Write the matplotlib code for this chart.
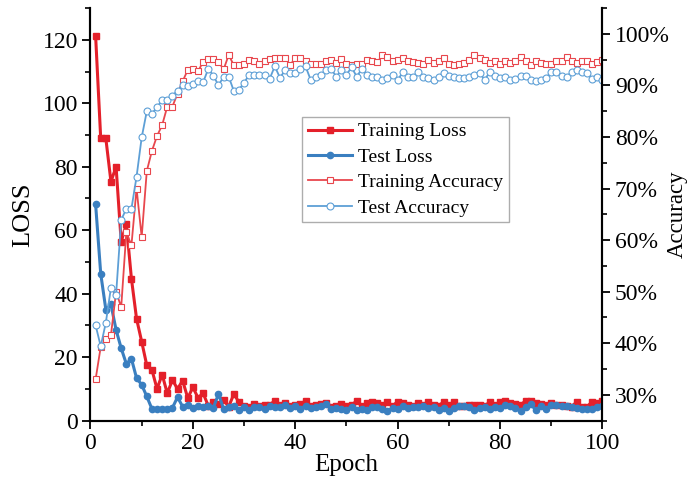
import numpy as np
import matplotlib
matplotlib.use('Agg')
import matplotlib.pyplot as plt
from matplotlib.ticker import MultipleLocator, PercentFormatter

# Data (epochs 1..100)
epochs = list(range(1, 101))

train_loss = [121.3, 88.9, 88.9, 75.3, 80.0, 56.3, 62.0, 44.7, 32.1, 24.9,
              17.4, 16.0, 10.0, 14.5, 8.6, 12.8, 10.0, 12.6, 7.1, 10.5,
              7.2, 8.6, 4.7, 5.8, 5.3, 6.5, 4.4, 8.4, 5.8, 4.7,
              4.2, 5.3, 4.6, 4.8, 5.0, 6.2, 4.8, 5.4, 4.6, 5.0,
              5.2, 6.2, 4.7, 5.0, 5.2, 5.6, 4.4, 4.6, 5.3, 4.6,
              4.9, 6.2, 4.5, 5.5, 6.0, 5.4, 4.8, 5.8, 4.6, 6.0,
              5.6, 5.0, 4.6, 5.6, 4.8, 6.0, 5.0, 4.6, 6.0, 4.8,
              5.8, 4.7, 4.6, 5.0, 5.0, 4.8, 4.5, 6.0, 4.8, 6.0,
              6.1, 5.4, 5.2, 5.0, 6.2, 6.2, 5.6, 5.2, 4.8, 5.4,
              5.0, 4.9, 4.6, 4.4, 6.0, 4.2, 4.4, 6.0, 5.4, 6.2]

test_loss = [68.2, 46.3, 35.0, 36.6, 28.6, 22.8, 17.9, 19.5, 13.4, 11.3,
             7.6, 3.7, 3.7, 3.7, 3.7, 4.0, 7.4, 4.4, 5.0, 4.0,
             4.7, 4.4, 4.7, 4.0, 8.4, 3.7, 4.4, 4.7, 3.2, 4.2,
             3.4, 4.3, 4.4, 3.6, 4.6, 4.4, 4.2, 4.8, 3.9, 4.5,
             3.8, 4.6, 3.9, 4.4, 4.7, 5.2, 3.6, 4.0, 3.8, 3.5,
             4.4, 3.4, 3.8, 3.5, 4.2, 4.3, 3.6, 3.0, 4.0, 3.8,
             4.6, 3.9, 4.4, 4.3, 4.6, 4.0, 4.4, 3.4, 4.0, 3.0,
             4.0, 4.6, 4.7, 4.2, 3.3, 3.9, 4.2, 3.8, 4.4, 4.0,
             4.9, 4.6, 4.0, 3.0, 4.2, 5.2, 3.2, 4.6, 3.6, 5.0,
             4.8, 4.6, 4.5, 4.2, 3.9, 3.6, 3.7, 3.6, 4.4, 4.6]

train_acc = [33.0, 39.3, 40.8, 41.6, 50.0, 47.0, 61.5, 59.0, 70.0, 60.6,
             73.4, 77.3, 80.2, 82.3, 85.9, 85.9, 88.4, 90.8, 93.0, 93.2,
             92.7, 94.6, 95.1, 95.1, 94.6, 93.1, 95.9, 93.9, 93.9, 94.2,
             95.0, 94.7, 94.1, 94.7, 95.2, 95.4, 95.4, 95.4, 93.9, 95.4,
             95.4, 94.7, 94.2, 94.1, 94.1, 94.7, 95.0, 94.3, 95.2, 94.1,
             93.9, 94.2, 94.1, 95.0, 94.7, 94.5, 95.8, 95.6, 94.8, 95.0,
             95.4, 94.7, 94.5, 94.3, 94.2, 95.0, 94.3, 94.7, 95.4, 94.1,
             93.9, 94.1, 94.3, 95.0, 95.8, 95.4, 95.0, 94.3, 94.7, 94.2,
             94.8, 94.3, 94.7, 95.6, 94.8, 93.9, 94.7, 94.3, 94.2, 94.1,
             94.7, 94.7, 95.6, 94.7, 94.3, 94.7, 94.7, 94.2, 94.5, 95.0]

test_acc = [43.5, 39.4, 44.0, 50.8, 49.4, 63.9, 66.1, 66.1, 72.3, 79.9,
            85.0, 84.5, 85.8, 87.1, 87.1, 88.0, 89.0, 90.0, 89.8, 90.3,
            90.8, 90.6, 93.2, 91.9, 90.0, 91.7, 91.7, 88.9, 89.2, 90.5,
            92.1, 92.1, 92.1, 92.1, 91.3, 93.7, 91.5, 92.9, 92.4, 92.4,
            93.2, 93.7, 91.1, 91.7, 92.1, 92.9, 93.2, 91.7, 92.9, 92.1,
            93.5, 91.7, 93.2, 92.1, 91.7, 91.7, 91.0, 91.5, 92.1, 91.0,
            92.6, 91.7, 91.7, 92.6, 91.7, 91.5, 91.1, 91.7, 92.4, 91.9,
            91.7, 91.5, 91.5, 91.7, 92.1, 92.4, 91.1, 92.6, 91.9, 91.5,
            91.7, 91.0, 91.3, 91.9, 91.9, 91.1, 90.8, 91.0, 91.5, 92.6,
            92.6, 91.9, 91.7, 92.6, 92.9, 92.6, 92.4, 91.3, 91.7, 91.0]

RED = '#e4202a'
BLUE = '#3a7fc0'
LRED = '#e8474d'
LBLUE = '#5d9fd6'

plt.rcParams['font.family'] = ['Liberation Serif', 'DejaVu Serif']

fig = plt.figure(figsize=(6.87, 4.79), dpi=100)
ax = fig.add_axes([0.1317, 0.1219, 0.7453, 0.8613])
ax2 = ax.twinx()

# loss curves on the left axis
l1, = ax.plot(epochs, train_loss, color=RED, lw=2.2, marker='s', ms=4,
              mfc=RED, mec=RED, label='Training Loss', zorder=3)
l2, = ax.plot(epochs, test_loss, color=BLUE, lw=2.2, marker='o', ms=4.5,
              mfc=BLUE, mec=BLUE, label='Test Loss', zorder=3)

# accuracy curves on the right axis
acc_tr = np.array(train_acc) / 100
acc_te = np.array(test_acc) / 100
l3, = ax2.plot(epochs, acc_tr, color=LRED, lw=1.3, marker='s', ms=4.5,
               mfc='white', mec=LRED, mew=0.8, label='Training Accuracy')
l4, = ax2.plot(epochs, acc_te, color=LBLUE, lw=1.3, marker='o', ms=5,
               mfc='white', mec=LBLUE, mew=0.8, label='Test Accuracy')

ax.set_xlim(0, 100)
ax.set_ylim(0, 130)
ax2.set_ylim(0.25, 1.05)

ax.xaxis.set_major_locator(MultipleLocator(20))
ax.xaxis.set_minor_locator(MultipleLocator(10))
ax.yaxis.set_major_locator(MultipleLocator(20))
ax.yaxis.set_minor_locator(MultipleLocator(10))
ax2.set_yticks([0.3, 0.4, 0.5, 0.6, 0.7, 0.8, 0.9, 1.0])
ax2.yaxis.set_minor_locator(MultipleLocator(0.05))
ax2.yaxis.set_major_formatter(PercentFormatter(1.0, decimals=0))

for a in (ax, ax2):
    a.spines['top'].set_visible(False)
    for s in a.spines.values():
        s.set_linewidth(1.5)
    a.tick_params(which='major', direction='out', length=6, width=1.3, labelsize=17, pad=3)
    a.tick_params(which='minor', direction='out', length=3.5, width=1.2)

ax.set_xlabel('Epoch', fontsize=18, labelpad=0)
ax.set_ylabel('LOSS', fontsize=19, labelpad=6)
ax2.set_ylabel('Accuracy', fontsize=16.5, labelpad=-2)

leg = ax.legend(handles=[l1, l2, l3, l4], loc='upper left',
                bbox_to_anchor=(0.413, 0.736), fontsize=14, frameon=True,
                fancybox=False, edgecolor='#999999', handlelength=2.3,
                borderpad=0.3, labelspacing=0.4, handletextpad=0.3,
                borderaxespad=0)
leg.get_frame().set_linewidth(1.0)
leg.set_zorder(10)

plt.savefig('out.png', dpi=100)
